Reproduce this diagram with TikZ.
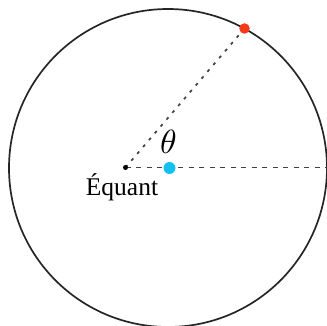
\documentclass[tikz,border=0pt]{standalone}
\usepackage{fontspec}
\setmainfont{Liberation Serif}
\begin{document}
\begin{tikzpicture}[x=1pt,y=-1pt,
  rim/.style={draw=black!85,line width=1.7pt},
  ray/.style={draw=black!75,line width=1.7pt,dash pattern=on 3pt off 6pt},
  axis/.style={draw=black!75,line width=1.7pt,dash pattern=on 5pt off 5.5pt},
  dot/.style={circle,inner sep=0pt,minimum size=#1}]
\useasboundingbox (0,0) rectangle (327,326);
\definecolor{planet}{HTML}{F53A18}
\definecolor{center}{HTML}{14C0F0}
\coordinate (C) at (168,168);
\draw[rim] (C) circle (159);
\coordinate (E) at (125.5,167.5);
\coordinate (R) at (327,167.5);
\coordinate (P) at (244.5,28.5);
\draw[ray] (E) -- (P);
\draw[axis] (E) -- (R);
\node[dot=5pt,fill=black] (eq) at (E) {};
\node[dot=12pt,fill=center] (c) at (169.5,168) {};
\node[dot=10.5pt,fill=planet] (p) at (P) {};
\node[anchor=base,font=\fontsize{25.5}{28}\selectfont,inner sep=0pt] (lab) at (122,196) {Équant};
\node[anchor=base,inner sep=0pt] (th) at (168.5,153.5) {\scalebox{3.35}{$\theta$}};
\end{tikzpicture}
\end{document}
